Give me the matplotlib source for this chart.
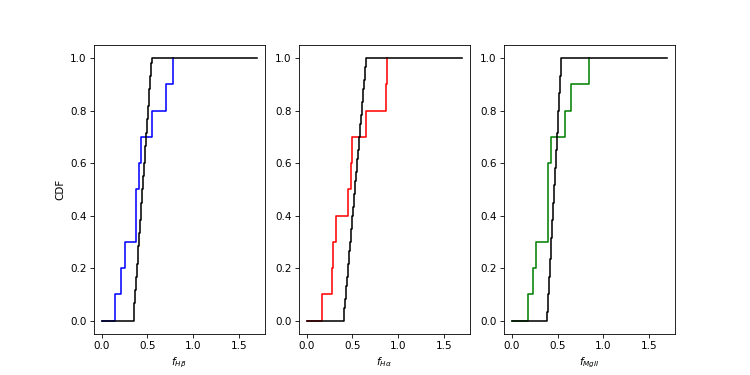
import numpy as np
import matplotlib
matplotlib.use("Agg")
import matplotlib.pyplot as plt

x_start = 0.0
x_end = 1.7

hb_obs = [0.144, 0.217, 0.258, 0.372, 0.372, 0.413, 0.435, 0.557, 0.708, 0.781]
ha_obs = [0.166, 0.278, 0.289, 0.322, 0.448, 0.481, 0.495, 0.650, 0.867, 0.878]
mg_obs = [0.177, 0.228, 0.267, 0.401, 0.401, 0.401, 0.434, 0.582, 0.647, 0.849]

hb_model = [0.350, 0.353, 0.357, 0.360, 0.363, 0.367, 0.370, 0.373, 0.377, 0.380,
            0.384, 0.387, 0.390, 0.394, 0.397, 0.400, 0.404, 0.407, 0.410, 0.414,
            0.417, 0.420, 0.424, 0.427, 0.431, 0.434, 0.437, 0.441, 0.444, 0.447,
            0.451, 0.454, 0.457, 0.461, 0.464, 0.467, 0.471, 0.474, 0.478, 0.481,
            0.484, 0.488, 0.491, 0.494, 0.498, 0.501, 0.504, 0.508, 0.511, 0.514,
            0.518, 0.521, 0.524, 0.528, 0.531, 0.535, 0.538, 0.541, 0.545, 0.548]
ha_model = [0.405, 0.409, 0.413, 0.417, 0.422, 0.426, 0.430, 0.434, 0.438, 0.442,
            0.447, 0.451, 0.455, 0.459, 0.463, 0.467, 0.471, 0.476, 0.480, 0.484,
            0.488, 0.492, 0.496, 0.500, 0.505, 0.509, 0.513, 0.517, 0.521, 0.525,
            0.529, 0.534, 0.538, 0.542, 0.546, 0.550, 0.554, 0.559, 0.563, 0.567,
            0.571, 0.575, 0.579, 0.583, 0.588, 0.592, 0.596, 0.600, 0.604, 0.608,
            0.612, 0.617, 0.621, 0.625, 0.629, 0.633, 0.637, 0.642, 0.646, 0.650]
mg_model = [0.387, 0.390, 0.392, 0.395, 0.398, 0.400, 0.403, 0.405, 0.408, 0.411,
            0.413, 0.416, 0.419, 0.421, 0.424, 0.426, 0.429, 0.432, 0.434, 0.437,
            0.440, 0.442, 0.445, 0.447, 0.450, 0.453, 0.455, 0.458, 0.461, 0.463,
            0.466, 0.468, 0.471, 0.474, 0.476, 0.479, 0.482, 0.484, 0.487, 0.489,
            0.492, 0.495, 0.497, 0.500, 0.503, 0.505, 0.508, 0.510, 0.513, 0.516,
            0.518, 0.521, 0.524, 0.526, 0.529, 0.531, 0.534, 0.537, 0.539, 0.542]

labels = [r'$f_{H\beta}$', r'$f_{H\alpha}$', r'$f_{MgII}$']
colors = ['blue', 'red', 'green']
obs_sets = [hb_obs, ha_obs, mg_obs]
model_sets = [hb_model, ha_model, mg_model]


def cdf_xy(vals, extend=False):
    v = np.sort(np.asarray(vals, dtype=float))
    y = np.arange(1, len(v) + 1) / len(v)
    xs = np.concatenate([[x_start], v])
    ys = np.concatenate([[0.0], y])
    if extend:
        xs = np.concatenate([xs, [x_end]])
        ys = np.concatenate([ys, [1.0]])
    return xs, ys


fig, axes = plt.subplots(1, 3, figsize=(10, 5), dpi=75)
for ax, obs, mod, c, lab in zip(axes, obs_sets, model_sets, colors, labels):
    xo, yo = cdf_xy(obs)
    ax.step(xo, yo, where='post', color=c)
    xm, ym = cdf_xy(mod, extend=True)
    ax.step(xm, ym, where='post', color='black')
    ax.set_xlabel(lab)
    ax.set_xticks([0.0, 0.5, 1.0, 1.5])
    ax.set_yticks([0.0, 0.2, 0.4, 0.6, 0.8, 1.0])
axes[0].set_ylabel('CDF')

fig.savefig('out.png', dpi=75)
